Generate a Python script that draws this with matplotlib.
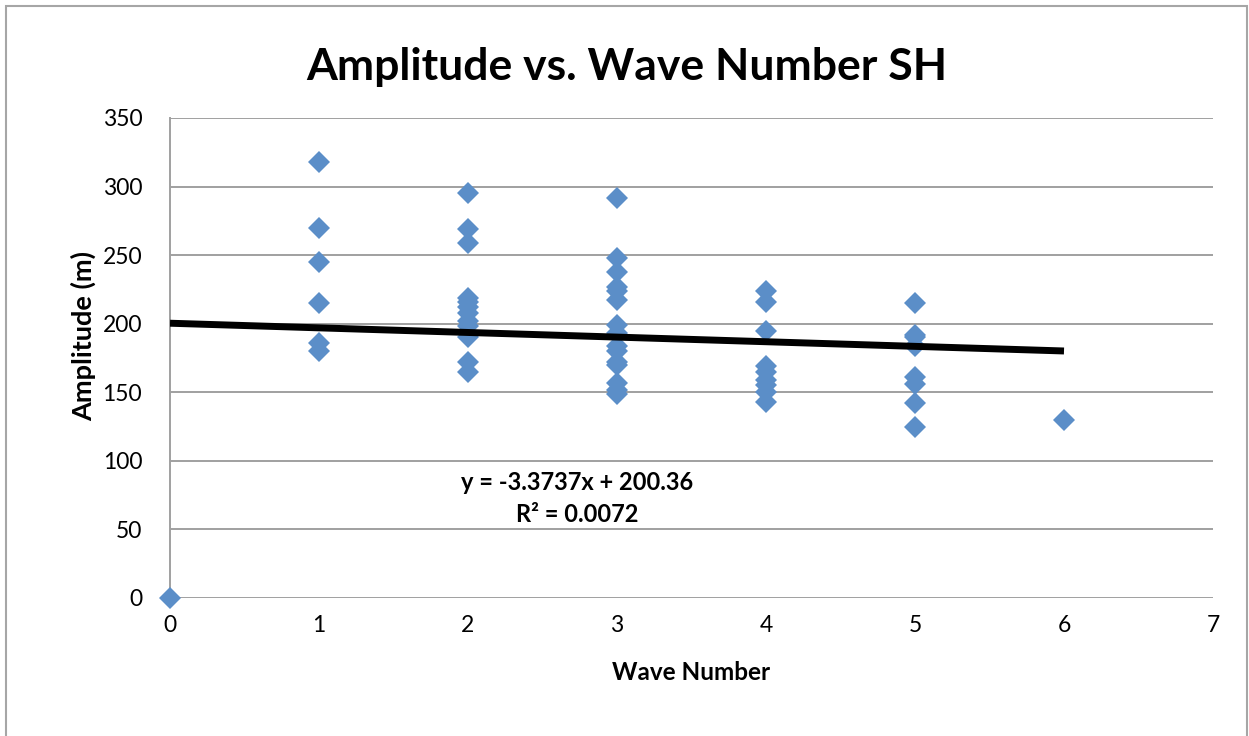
import matplotlib
matplotlib.use("Agg")
import matplotlib.pyplot as plt
from matplotlib.patches import Rectangle

plt.rcParams['font.family'] = ['Lato', 'DejaVu Sans']

# data
wave_1 = [318, 270, 245, 215, 186, 180]
wave_2 = [295, 269, 259, 219, 216, 212, 208, 202, 198, 190, 172, 165]
wave_3 = [292, 248, 238, 227, 224, 217, 199, 193, 184, 180, 172, 170, 157, 152, 149]
wave_4 = [224, 216, 195, 169, 165, 159, 155, 150, 143]
wave_5 = [215, 192, 190, 184, 161, 156, 142, 125]
wave_6 = [130]
wave_0 = [0]

groups = {0: wave_0, 1: wave_1, 2: wave_2, 3: wave_3, 4: wave_4, 5: wave_5, 6: wave_6}

slope = -3.3737
intercept = 200.36
r2 = 0.0072

xs, ys = [], []
for k, v in groups.items():
    xs += [k] * len(v)
    ys += v

fig = plt.figure(figsize=(12.49, 7.36), dpi=100)
fig.patches.append(Rectangle((6 / 1249, -0.1), (1247 - 6) / 1249, 1.1 - 6 / 736,
                             transform=fig.transFigure, fill=False,
                             edgecolor='#a6a6a6', linewidth=1.5))

ax = fig.add_axes([170 / 1249, (736 - 598) / 736, (1213 - 170) / 1249, 480 / 736])

ax.set_xlim(0, 7)
ax.set_ylim(0, 350)
ax.set_yticks(range(0, 351, 50))
ax.set_xticks(range(0, 8))
ax.grid(axis='y', color='#a0a0a0', linewidth=1.4)
ax.set_axisbelow(True)
for s in ['top', 'right', 'bottom']:
    ax.spines[s].set_visible(False)
ax.spines['left'].set_color('#a0a0a0')
ax.spines['left'].set_linewidth(1.4)
ax.tick_params(length=0, labelsize=16.5, pad=20)
ax.tick_params(axis='x', pad=12)

ax.plot(xs, ys, linestyle='none', marker='D', markersize=11.5,
        color='#5b8ec8', markeredgewidth=0, clip_on=False, zorder=3)

# linear trendline
tx = [0, 6]
ax.plot(tx, [slope * t + intercept for t in tx], color='black', linewidth=5,
        solid_capstyle='butt', zorder=4)

ax.text(2.73, 84, f"y = {slope}x + {intercept}", fontsize=17, fontweight='bold',
        ha='center', va='center')
ax.text(2.73, 61, f"R² = {r2}", fontsize=17, fontweight='bold',
        ha='center', va='center')

fig.text(0.502, 0.909, 'Amplitude vs. Wave Number SH', fontsize=32, fontweight='bold',
         ha='center', va='center')
ax.set_xlabel('Wave Number', fontsize=17.5, fontweight='bold', va='center')
ax.set_ylabel('Amplitude (m)', fontsize=19.5, fontweight='bold', va='center')
ax.xaxis.set_label_coords(0.5, -0.156)
ax.yaxis.set_label_coords(-0.0834, 0.545)

fig.savefig('out.png', dpi=100)
